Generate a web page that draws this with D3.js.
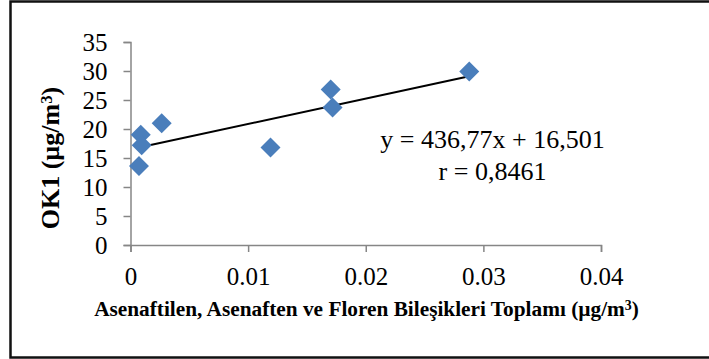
<!DOCTYPE html>
<html>
<head>
<meta charset="utf-8">
<script src="https://cdn.jsdelivr.net/npm/d3@7"></script>
<style>
	body { margin: 0; background: #fff; }
	svg { display: block; font-family: "Liberation Serif", "Times New Roman", serif; }
</style>
</head>
<body>
<svg id="chart" width="709" height="359"></svg>
<script>
// values
var xValues = [0.00087, 0.00095, 0.00072, 0.00265, 0.0119, 0.01702, 0.01718, 0.0288];
var yValues = [19.0, 17.2, 13.6, 21.0, 16.8, 26.8, 23.7, 29.9];
var xTicks = [0, 0.01, 0.02, 0.03, 0.04];
var yTicks = [0, 5, 10, 15, 20, 25, 30, 35];
var slope = 436.77, intercept = 16.501;
var eqLines = ["y = 436,77x + 16,501", "r = 0,8461"];
// titles split round the superscript 3
var xTitle = ["Asenaftilen, Asenaften ve Floren Bileşikleri Toplamı (µg/m", "3", ")"];
var yTitle = ["OK1 (µg/m", "3", ")"];

var svg = d3.select("#chart");

// outer frame
svg.append("rect")
	.attr("x", 10.5).attr("y", 1.5)
	.attr("width", 710).attr("height", 356)
	.style("fill", "none")
	.style("stroke", "#111")
	.style("stroke-width", 2.5);

var x = d3.scaleLinear().domain([0, 0.04]).range([130.5, 601]);
var y = d3.scaleLinear().domain([0, 35]).range([245, 42]);

var axisColor = "#868686";

var xAxis = svg.append("g")
	.attr("transform", "translate(0," + y(0) + ")")
	.call(d3.axisBottom(x).tickValues(xTicks).tickSize(7).tickPadding(15)
		.tickFormat(function(d) { return d === 0 ? "0" : d.toFixed(2); }));
var yAxis = svg.append("g")
	.attr("transform", "translate(" + x(0) + ",0)")
	.call(d3.axisLeft(y).tickValues(yTicks).tickSize(7).tickPadding(16)
		.tickFormat(d3.format("d")));

[xAxis, yAxis].forEach(function(a) {
	a.select(".domain").style("stroke", axisColor).style("stroke-width", 1.5);
	a.selectAll(".tick line").style("stroke", axisColor).style("stroke-width", 1.5);
	a.selectAll(".tick text")
		.style("font-family", "'Liberation Serif', 'Times New Roman', serif")
		.style("font-size", "25px")
		.style("fill", "#000");
});

// trend line over the data range
var xMin = d3.min(xValues), xMax = d3.max(xValues);
svg.append("line")
	.attr("x1", x(xMin)).attr("y1", y(slope * xMin + intercept))
	.attr("x2", x(xMax)).attr("y2", y(slope * xMax + intercept))
	.style("stroke", "#000")
	.style("stroke-width", 2);

// diamond markers
var diamond = d3.symbol().type(d3.symbolSquare).size(200);
svg.selectAll(".pt")
	.data(xValues.map(function(v, i) { return { x: v, y: yValues[i] }; }))
	.enter()
	.append("path")
	.attr("class", "pt")
	.attr("d", diamond)
	.attr("transform", function(d) { return "translate(" + x(d.x) + "," + y(d.y) + ") rotate(45)"; })
	.style("fill", "#4a7ebb");

// equation label
svg.append("g").selectAll("text")
	.data(eqLines)
	.enter()
	.append("text")
	.attr("x", 492.5)
	.attr("y", function(d, i) { return 148 + i * 32; })
	.attr("text-anchor", "middle")
	.style("font-size", "26px")
	.text(function(d) { return d; });

function supTitle(sel, parts) {
	sel.append("tspan").text(parts[0]);
	sel.append("tspan").attr("dy", "-0.4em").style("font-size", "0.65em").text(parts[1]);
	sel.append("tspan").attr("dy", "0.26em").text(parts[2]);
}

// axis titles
svg.append("text")
	.attr("x", 366.5).attr("y", 316)
	.attr("text-anchor", "middle")
	.style("font-size", "21.3px")
	.style("font-weight", "bold")
	.call(supTitle, xTitle);

svg.append("text")
	.attr("transform", "translate(59,158) rotate(-90)")
	.attr("text-anchor", "middle")
	.style("font-size", "26px")
	.style("font-weight", "bold")
	.call(supTitle, yTitle);
</script>
</body>
</html>
